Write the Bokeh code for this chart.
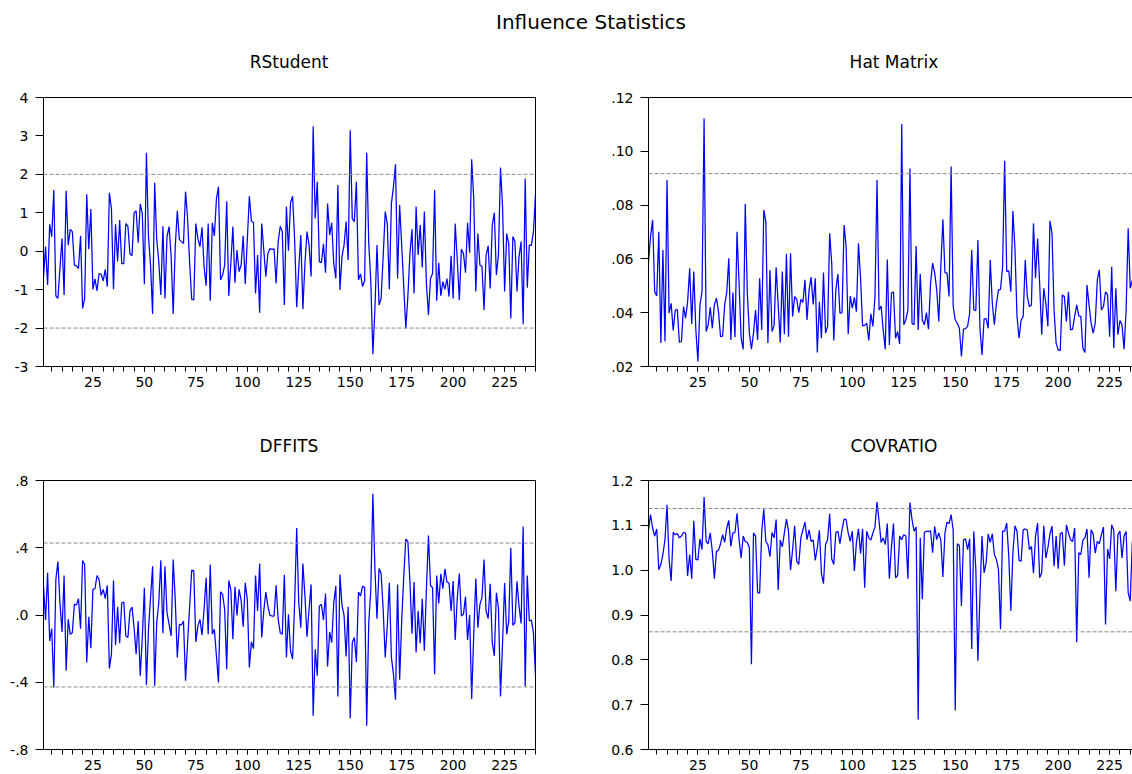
from bokeh.plotting import figure
from bokeh.models import Span, FixedTicker, CustomJSTickFormatter, LinearAxis, Range1d, Div
from bokeh.layouts import column, row
from bokeh.embed import file_html
from bokeh.resources import INLINE

# ---------------- data ----------------
rstudent = [
    -0.66, 0.12, -0.88, 0.70, 0.38, 1.59, -1.16, -1.23, -0.45, 0.33,
    -1.14, 1.57, 0.16, 0.57, 0.51, -0.36, -0.38, -0.45, 0.40, -1.49,
    -1.23, 1.48, 0.05, 1.10, -0.99, -0.72, -1.03, -0.58, -0.60, -0.77,
    -0.47, -0.92, 1.52, 1.11, -0.99, 0.70, -0.27, 0.81, -0.32, -0.32,
    0.72, 0.65, -0.07, -0.12, 1.00, 1.05, 0.22, 1.23, 0.98, -0.86,
    2.56, 0.38, -0.36, -1.63, 1.78, 0.31, -0.27, -1.14, 0.65, -1.23,
    0.38, 0.64, -0.12, -1.63, 0.12, 1.05, 0.31, 0.25, 0.20, 1.55,
    0.85, -0.32, -1.25, -1.27, 0.72, 0.33, 0.12, 0.62, -0.40, -0.90,
    0.72, -1.29, 0.74, 0.40, 1.36, 1.68, -0.75, -0.62, -0.36, 1.30,
    -1.16, -0.32, 0.64, -0.82, 0.03, -0.53, -0.36, 0.40, -0.85, 0.29,
    1.43, 0.79, 0.74, -1.10, -0.10, -1.60, 0.72, 0.03, -0.66, -0.06,
    0.07, 0.05, 0.06, -0.84, 0.25, 0.65, 0.51, -1.40, 1.16, 0.01,
    1.26, 1.43, 0.29, -1.46, -0.45, 0.42, -1.51, -0.32, 0.51, 0.16,
    -0.66, 3.25, 0.85, 1.81, -0.27, -0.30, 0.19, -0.56, 1.24, 0.42,
    0.74, -0.32, -0.71, 1.72, -1.01, -0.14, 0.16, 0.77, -0.23, 3.15,
    0.85, 0.77, 1.81, -0.75, -0.59, -0.92, -0.77, 2.56, 0.20, -0.79,
    -2.68, -1.49, 0.16, -1.40, -1.23, -0.14, 1.03, 0.72, -0.99, 1.24,
    1.68, 2.26, -0.71, 1.20, 0.16, -0.92, -2.01, -1.18, -0.06, 0.57,
    -1.10, 1.16, -0.10, 0.68, -0.42, 1.03, -0.84, -1.66, -0.71, -0.58,
    1.59, -1.29, -0.30, -1.16, -0.79, -0.99, -0.71, -1.18, -0.12, -1.23,
    0.72, -0.23, -1.27, 0.05, -0.06, -0.56, 0.74, -0.04, 2.39, 1.37,
    -1.05, 0.46, -0.36, -0.40, -1.53, -0.10, 0.14, -0.97, 0.68, 1.00,
    -0.62, -0.10, 2.18, 1.16, -1.05, 0.46, 0.20, -1.75, 0.38, 0.25,
    -1.05, -0.14, 0.25, -1.90, 1.89, -0.95, 0.16, 0.15, 0.51, 1.49,
]

dffits = [
    0.172, -0.030, 0.251, -0.154, -0.081, -0.431, 0.211, 0.318, 0.073, -0.101,
    0.235, -0.332, -0.026, -0.115, -0.105, 0.063, 0.060, 0.097, -0.081, 0.324,
    0.300, -0.283, -0.010, -0.198, 0.152, 0.156, 0.235, 0.211, 0.117, 0.152,
    0.097, 0.176, -0.318, -0.233, 0.205, -0.180, 0.049, -0.168, 0.073, 0.077,
    -0.125, -0.134, 0.024, 0.047, -0.075, -0.233, -0.036, -0.361, -0.134, 0.162,
    -0.417, -0.085, 0.103, 0.290, -0.421, -0.045, 0.073, 0.326, -0.109, 0.290,
    0.014, -0.055, -0.125, 0.330, 0.093, -0.253, -0.055, -0.059, -0.036, -0.391,
    -0.164, 0.053, 0.267, 0.262, -0.160, -0.065, -0.026, -0.120, 0.034, 0.221,
    -0.115, 0.300, -0.115, -0.085, -0.243, -0.401, 0.138, 0.123, 0.034, -0.322,
    0.205, 0.152, -0.144, 0.168, -0.002, 0.152, 0.089, -0.069, 0.192, 0.093,
    -0.312, -0.160, -0.200, 0.235, 0.024, 0.306, -0.134, 0.024, 0.136, 0.053,
    -0.002, -0.006, -0.006, 0.176, -0.026, -0.105, -0.115, 0.239, -0.253, 0.004,
    -0.213, -0.263, 0.073, 0.517, 0.073, -0.075, 0.306, 0.113, -0.129, 0.034,
    0.182, -0.599, -0.204, -0.361, 0.053, 0.063, -0.030, 0.128, -0.306, -0.101,
    -0.164, 0.073, 0.172, -0.484, 0.241, 0.057, -0.002, -0.247, 0.049, -0.614,
    -0.164, -0.134, -0.279, 0.136, 0.113, 0.172, 0.162, -0.658, -0.046, 0.152,
    0.721, 0.271, -0.022, 0.277, 0.247, 0.034, -0.253, -0.065, 0.192, -0.253,
    -0.352, -0.504, 0.182, -0.385, -0.036, 0.231, 0.452, 0.438, 0.196, -0.111,
    0.196, -0.223, 0.024, -0.168, 0.097, -0.213, 0.152, 0.472, 0.176, 0.162,
    -0.352, 0.235, 0.069, 0.245, 0.156, 0.275, 0.196, 0.190, 0.024, 0.202,
    -0.148, 0.103, 0.247, -0.006, 0.004, 0.109, -0.148, 0.000, -0.500, -0.115,
    0.217, -0.075, 0.063, 0.103, 0.330, 0.024, -0.022, 0.186, -0.164, -0.243,
    0.132, 0.043, -0.484, -0.164, 0.190, -0.115, -0.036, 0.399, -0.061, -0.045,
    0.200, 0.053, -0.050, 0.527, -0.425, 0.235, -0.036, -0.030, -0.105, -0.360,
]

hat_matrix = [
    0.0590, 0.0683, 0.0745, 0.0478, 0.0462, 0.0701, 0.0287, 0.0633, 0.0293, 0.0893,
    0.0398, 0.0435, 0.0334, 0.0410, 0.0412, 0.0290, 0.0293, 0.0423, 0.0380, 0.0441,
    0.0565, 0.0358, 0.0553, 0.0336, 0.0219, 0.0429, 0.0478, 0.1122, 0.0330, 0.0355,
    0.0420, 0.0342, 0.0429, 0.0454, 0.0404, 0.0311, 0.0313, 0.0429, 0.0475, 0.0602,
    0.0299, 0.0475, 0.0309, 0.0701, 0.0509, 0.0305, 0.0264, 0.0804, 0.0472, 0.0324,
    0.0264, 0.0324, 0.0410, 0.0299, 0.0528, 0.0336, 0.0782, 0.0738, 0.0287, 0.0559,
    0.0330, 0.0351, 0.0569, 0.0429, 0.0289, 0.0553, 0.0320, 0.0618, 0.0311, 0.0621,
    0.0386, 0.0460, 0.0450, 0.0400, 0.0450, 0.0438, 0.0522, 0.0373, 0.0485, 0.0532,
    0.0431, 0.0528, 0.0252, 0.0441, 0.0305, 0.0549, 0.0324, 0.0349, 0.0695, 0.0584,
    0.0297, 0.0485, 0.0544, 0.0398, 0.0400, 0.0726, 0.0646, 0.0321, 0.0462, 0.0417,
    0.0457, 0.0404, 0.0658, 0.0528, 0.0351, 0.0353, 0.0361, 0.0297, 0.0396, 0.0349,
    0.0460, 0.0893, 0.0410, 0.0425, 0.0336, 0.0264, 0.0598, 0.0280, 0.0472, 0.0478,
    0.0305, 0.0330, 0.0284, 0.1101, 0.0355, 0.0373, 0.0410, 0.0936, 0.0361, 0.0355,
    0.0648, 0.0336, 0.0544, 0.0373, 0.0355, 0.0400, 0.0339, 0.0509, 0.0584, 0.0549,
    0.0485, 0.0367, 0.0571, 0.0747, 0.0549, 0.0547, 0.0460, 0.0943, 0.0423, 0.0373,
    0.0361, 0.0342, 0.0237, 0.0339, 0.0341, 0.0349, 0.0398, 0.0633, 0.0410, 0.0408,
    0.0670, 0.0342, 0.0243, 0.0376, 0.0378, 0.0342, 0.0596, 0.0435, 0.0355, 0.0435,
    0.0485, 0.0487, 0.0571, 0.0965, 0.0553, 0.0556, 0.0478, 0.0778, 0.0639, 0.0386,
    0.0305, 0.0373, 0.0386, 0.0596, 0.0460, 0.0423, 0.0429, 0.0732, 0.0528, 0.0676,
    0.0509, 0.0318, 0.0491, 0.0435, 0.0349, 0.0741, 0.0695, 0.0410, 0.0287, 0.0262,
    0.0259, 0.0466, 0.0460, 0.0367, 0.0478, 0.0336, 0.0339, 0.0386, 0.0429, 0.0388,
    0.0386, 0.0268, 0.0252, 0.0503, 0.0429, 0.0361, 0.0324, 0.0361, 0.0522, 0.0559,
    0.0410, 0.0423, 0.0478, 0.0466, 0.0311, 0.0571, 0.0268, 0.0491, 0.0318, 0.0371,
    0.0355, 0.0264, 0.0410, 0.0714, 0.0491, 0.0520,
]

covratio = [
    1.090, 1.124, 1.094, 1.076, 1.092, 1.001, 1.013, 1.035, 1.068, 1.146,
    1.024, 0.976, 1.084, 1.079, 1.082, 1.072, 1.076, 1.084, 1.083, 0.987,
    1.035, 0.981, 1.110, 1.024, 1.023, 1.070, 1.046, 1.163, 1.064, 1.059,
    1.083, 1.042, 0.981, 1.042, 1.044, 1.059, 1.079, 1.062, 1.094, 1.111,
    1.053, 1.083, 1.084, 1.127, 1.068, 1.027, 1.076, 1.064, 1.062, 1.050,
    0.790, 1.083, 1.076, 0.950, 0.949, 1.087, 1.136, 1.064, 1.057, 1.030,
    1.084, 1.072, 1.113, 0.956, 1.067, 1.052, 1.083, 1.114, 1.087, 1.000,
    1.046, 1.099, 1.020, 1.013, 1.072, 1.090, 1.107, 1.068, 1.090, 1.064,
    1.067, 1.022, 1.050, 1.089, 0.993, 0.970, 1.057, 1.068, 1.126, 1.025,
    1.013, 1.084, 1.087, 1.059, 1.090, 1.114, 1.113, 1.083, 1.064, 1.087,
    0.998, 1.062, 1.092, 1.037, 1.092, 0.961, 1.087, 1.072, 1.067, 1.083,
    1.096, 1.152, 1.109, 1.062, 1.072, 1.057, 1.104, 0.981, 1.052, 1.104,
    0.983, 0.988, 1.076, 1.068, 1.079, 1.076, 0.981, 1.151, 1.113, 1.087,
    1.096, 0.667, 1.072, 0.935, 1.084, 1.087, 1.086, 1.088, 1.039, 1.098,
    1.068, 1.083, 1.067, 0.985, 1.083, 1.107, 1.104, 1.124, 1.089, 0.687,
    1.059, 1.055, 0.920, 1.067, 1.070, 1.046, 1.070, 0.824, 1.087, 1.001,
    0.798, 0.942, 1.076, 0.994, 1.016, 1.081, 1.062, 1.081, 1.035, 1.024,
    1.001, 0.868, 1.087, 1.087, 1.105, 1.031, 0.909, 1.039, 1.099, 1.087,
    1.022, 1.020, 1.090, 1.092, 1.089, 1.046, 1.053, 0.993, 1.076, 1.105,
    0.983, 0.994, 1.099, 1.027, 1.050, 1.081, 1.098, 1.009, 1.076, 1.003,
    1.081, 1.084, 1.010, 1.101, 1.083, 1.068, 1.064, 1.094, 0.839, 1.039,
    1.035, 1.067, 1.072, 1.092, 0.983, 1.090, 1.081, 1.038, 1.064, 1.059,
    1.079, 1.096, 0.879, 1.047, 1.025, 1.101, 1.089, 0.953, 1.079, 1.087,
    1.027, 1.076, 1.086, 0.950, 0.931, 1.064,
]

# reference (cut-off) lines
rstudent_bounds = [-2.0, 2.0]
hat_bounds = [0.0917]
dffits_bounds = [-0.428, 0.428]
covratio_bounds = [0.8625, 1.1375]

# ticks
x_ticks = [25, 50, 75, 100, 125, 150, 175, 200, 225]
x_minor_ticks = list(range(5, 241, 5))
rstudent_ticks = [-3, -2, -1, 0, 1, 2, 3, 4]
hat_ticks = [0.02, 0.04, 0.06, 0.08, 0.10, 0.12]
dffits_ticks = [-0.8, -0.4, 0.0, 0.4, 0.8]
covratio_ticks = [0.6, 0.7, 0.8, 0.9, 1.0, 1.1, 1.2]

FONT = "DejaVu Sans"
LINE_BLUE = "#0000FF"
DASH_GREY = "#8a8a8a"


def make_panel(values, bounds, y_range, y_ticks, fmt_code,
               width, height, left, right, top, bottom, x_end, full_frame):
    obs = list(range(1, len(values) + 1))
    p = figure(width=width, height=height,
               x_range=Range1d(1, x_end), y_range=Range1d(*y_range),
               output_backend="svg", toolbar_location=None, title_location=None,
               min_border_left=left, min_border_right=right,
               min_border_top=top, min_border_bottom=bottom)
    p.grid.visible = False
    p.background_fill_color = "white"
    p.border_fill_color = "white"

    xa = p.below[0]
    xa.ticker = FixedTicker(ticks=x_ticks, minor_ticks=x_minor_ticks)
    xa.major_tick_in = 0
    xa.major_tick_out = 5
    xa.minor_tick_in = 0
    xa.minor_tick_out = 5
    xa.major_label_standoff = 5
    xa.major_label_text_font = FONT
    xa.major_label_text_font_size = "14px"
    xa.major_label_text_color = "black"
    xa.axis_line_color = "black"
    xa.major_tick_line_color = "black"
    xa.minor_tick_line_color = "black"

    ya = p.left[0]
    ya.ticker = FixedTicker(ticks=y_ticks, minor_ticks=[])
    ya.formatter = CustomJSTickFormatter(code=fmt_code)
    ya.major_tick_in = 0
    ya.major_tick_out = 8
    ya.minor_tick_line_color = None
    ya.major_label_standoff = 7
    ya.major_label_text_font = FONT
    ya.major_label_text_font_size = "14px"
    ya.major_label_text_color = "black"
    ya.axis_line_color = "black"
    ya.major_tick_line_color = "black"

    if full_frame:
        p.outline_line_color = "black"
        p.outline_line_width = 1
    else:
        # panel is cut by the right edge of the picture: top and left edges only
        p.outline_line_color = None
        top_axis = LinearAxis(ticker=FixedTicker(ticks=[], minor_ticks=[]),
                              major_tick_out=0, major_tick_in=0,
                              minor_tick_out=0, minor_tick_in=0,
                              major_label_standoff=0,
                              axis_line_color="black")
        p.add_layout(top_axis, "above")

    for b in bounds:
        p.add_layout(Span(location=b, dimension="width", line_color=DASH_GREY,
                          line_dash="4 2", line_width=1))
    p.line(obs, values, line_color=LINE_BLUE, line_width=1.25)
    return p


def title_div(text, width, inner_width, pad_left, height, pad_top, size):
    html = ('<div style="box-sizing:border-box;width:%dpx;padding-left:%dpx;padding-top:%dpx;'
            'text-align:center;white-space:nowrap;color:#000;'
            'font-family:\'DejaVu Sans\',sans-serif;font-size:%dpx;'
            'line-height:20px;">%s</div>' % (inner_width, pad_left, pad_top, size, text))
    return Div(text=html, width=width, height=height, margin=0)


FMT_INT = "return tick.toFixed(0);"
FMT_HAT = "return tick.toFixed(2).replace('0.', '.');"
FMT_DF = "return tick.toFixed(1).replace('0.', '.');"
FMT_COV = "return tick.toFixed(1);"

LEFT_W, RIGHT_W = 590, 542
X_END_RIGHT = 236.1

p1 = make_panel(rstudent, rstudent_bounds, (-3, 4), rstudent_ticks, FMT_INT,
                LEFT_W, 340, 43, 55, 11, 60, 240, True)
p2 = make_panel(hat_matrix, hat_bounds, (0.02, 0.12), hat_ticks, FMT_HAT,
                RIGHT_W, 340, 58, 0, 11, 60, X_END_RIGHT, False)
p3 = make_panel(dffits, dffits_bounds, (-0.8, 0.8), dffits_ticks, FMT_DF,
                LEFT_W, 306, 43, 55, 12, 25, 240, True)
p4 = make_panel(covratio, covratio_bounds, (0.6, 1.2), covratio_ticks, FMT_COV,
                RIGHT_W, 306, 58, 0, 12, 25, X_END_RIGHT, False)

main_title = title_div("Influence Statistics", LEFT_W + RIGHT_W, LEFT_W + RIGHT_W, 50, 44, 12, 20)
t1 = title_div("RStudent", LEFT_W, 578, 0, 42, 8, 17)
t2 = title_div("Hat Matrix", RIGHT_W, RIGHT_W, 66, 42, 8, 17)
t3 = title_div("DFFITS", LEFT_W, 578, 0, 42, 10, 17)
t4 = title_div("COVRATIO", RIGHT_W, RIGHT_W, 66, 42, 10, 17)

layout = column(main_title, row(t1, t2), row(p1, p2), row(t3, t4), row(p3, p4))

html = file_html(layout, INLINE, title="Influence Statistics")
with open("out.html", "w") as f:
    f.write(html)
